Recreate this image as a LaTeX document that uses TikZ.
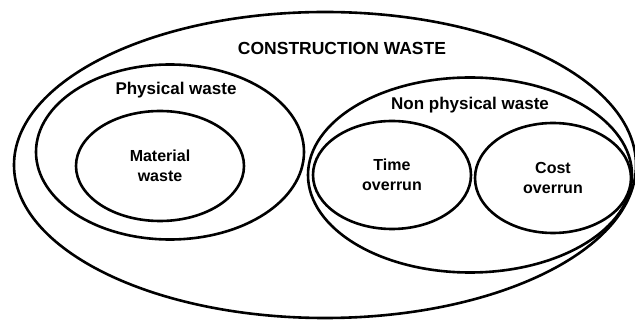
\documentclass[tikz,border=0pt]{standalone}
\usepackage{fontspec}
\setmainfont{Liberation Sans}
\usetikzlibrary{shapes.geometric}

\begin{document}
\begin{tikzpicture}[x=1pt, y=-1pt,
        set/.style={draw, ellipse, line width=2.6pt, inner sep=0pt},
        title/.style={font=\fontsize{17}{20}\selectfont\bfseries},
        item/.style={font=\fontsize{16}{19.5}\selectfont\bfseries, align=center}]
        \useasboundingbox (0, 0) rectangle (635, 320);
        \clip (0, 0) rectangle (635, 320);

        \node[set, minimum width=622pt, minimum height=306pt] (C) at (325, 165) {};
        \node[set, minimum width=268pt, minimum height=175pt] (P) at (170, 152) {};
        \node[set, minimum width=168pt, minimum height=110pt, item] (M) at (160, 166) {Material\\waste};
        \node[set, minimum width=324pt, minimum height=195pt] (NP) at (470, 175) {};
        \node[set, minimum width=158pt, minimum height=108pt, item] (T) at (392, 175) {Time\\overrun};
        \node[set, minimum width=156pt, minimum height=110pt, item] (K) at (553, 178) {Cost\\overrun};

        \node[title, font=\fontsize{17.5}{20}\selectfont\bfseries] (Ct) at (342, 48) {CONSTRUCTION WASTE};
        \node[title] (Pt) at (176, 90) {Physical waste};
        \node[title] (NPt) at (470, 105) {Non physical waste};
    \end{tikzpicture}
\end{document}
